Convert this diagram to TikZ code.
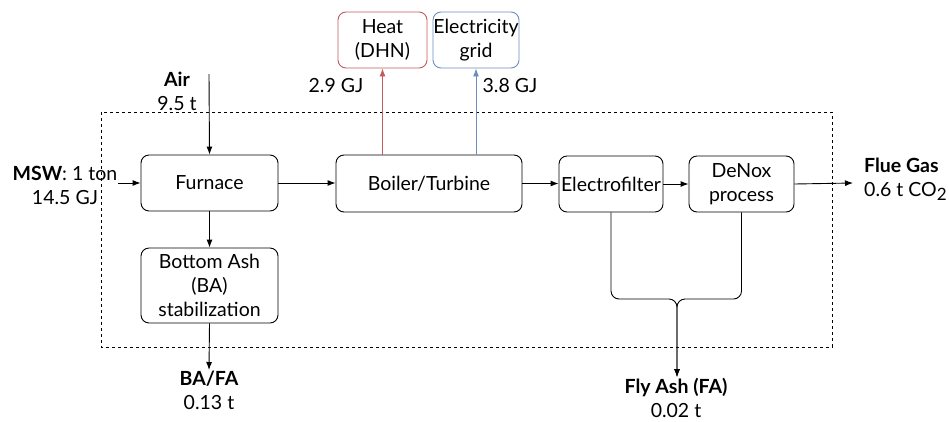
\documentclass[tikz,border=0pt]{standalone}
\usepackage{fontspec}
\setmainfont{Lato}
\usetikzlibrary{arrows.meta}
\definecolor{hred}{HTML}{C45A5A}
\definecolor{eblue}{HTML}{6C8EBF}
\begin{document}
\begin{tikzpicture}[x=1pt,y=-1pt,
  every node/.style={font=\fontsize{19.5}{24}\selectfont, inner sep=0pt, align=center},
  box/.style={draw, rounded corners=8pt, line width=0.9pt},
  flow/.style={line width=0.9pt, -{Latex[length=8pt,width=6pt]}}]
\useasboundingbox (0,0) rectangle (949,421);
% system boundary
\draw[dashed, line width=0.8pt, dash pattern=on 3pt off 3pt] (101,112) rectangle (832,347);
% boxes
\node[box, minimum width=137pt, minimum height=56pt] (furnace) at (209.5,183) {Furnace};
\node[box, minimum width=186pt, minimum height=57pt] (boiler) at (429,183.5) {Boiler/Turbine};
\node[box, minimum width=104pt, minimum height=56pt] (efilter) at (611,184) {Electrofilter};
\node[box, minimum width=105pt, minimum height=56pt] (denox) at (741.5,184) {DeNox\\process};
\node[box, minimum width=137pt, minimum height=75pt] (ba) at (209.5,285.5) {Bottom Ash\\(BA)\\stabilization};
\node[box, draw=hred, minimum width=89pt, minimum height=56pt] (heat) at (382.5,40) {Heat\\(DHN)};
\node[box, draw=eblue, minimum width=86pt, minimum height=56pt] (elec) at (476,40) {Electricity\\grid};
% labels
\node (air) at (177,91) {\textbf{Air}\\9.5 t};
\node (msw) at (65,185) {\textbf{MSW}: 1 ton\\14.5 GJ};
\node (heatv) at (336,86) {2.9 GJ};
\node (elecv) at (510,86) {3.8 GJ};
\node[anchor=west, align=left] (flue) at (864,179) {\textbf{Flue Gas}\\0.6 t CO\raisebox{-4pt}{\fontsize{17}{17}\selectfont 2}};
\node (bafa) at (209,390) {\textbf{BA/FA}\\0.13 t};
\node (fa) at (676,398) {\textbf{Fly Ash (FA)}\\0.02 t};
% coordinates
\coordinate (airtop) at (209,74);
\coordinate (mswend) at (118,183);
\coordinate (flueend) at (853,183);
\coordinate (baend) at (209,370);
\coordinate (faend) at (677,377);
\coordinate (faj) at (677,299);
% connectors
\draw[flow] (airtop) -- (furnace.north);
\draw[flow] (mswend) -- (furnace.west);
\draw[flow] (furnace.east) -- (furnace.east -| boiler.west);
\draw[flow] (boiler.east) -- (boiler.east -| efilter.west);
\draw[flow] (efilter.east) -- (efilter.east -| denox.west);
\draw[flow] (denox.east) -- (flueend);
\draw[flow] (furnace.south) -- (ba.north);
\draw[flow] (ba.south) -- (baend);
\draw[flow, hred] (heat.south |- boiler.north) -- (heat.south);
\draw[flow, eblue] (elec.south |- boiler.north) -- (elec.south);
\draw[flow, rounded corners=8pt] (efilter.south) -- (efilter.south |- faj) -- (faj) -- (faend);
\draw[flow, rounded corners=8pt] (denox.south) -- (denox.south |- faj) -- (faj) -- (faend);
\end{tikzpicture}
\end{document}
